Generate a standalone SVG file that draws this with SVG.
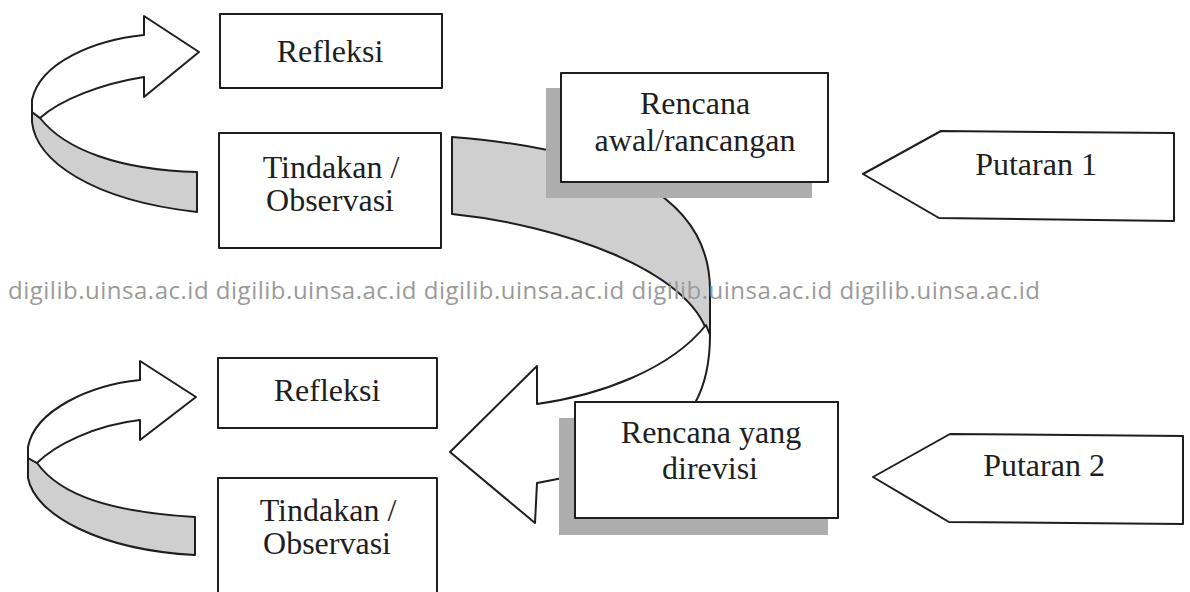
<svg xmlns="http://www.w3.org/2000/svg" width="1190" height="592" viewBox="0 0 1190 592">
<style>
.ln{stroke:#1e1e1e;stroke-width:2;stroke-linejoin:round}
.wh{fill:#ffffff}
.gr{fill:#cfcfcf}
.sh{fill:#adadad}
.t{font-family:"Liberation Serif","Times New Roman",serif;font-size:32px;fill:#1e1e1e;text-anchor:middle}
.wm{font-family:"Open Sans","DejaVu Sans",sans-serif;font-size:24px;fill:#9a9a9a}
</style>
<rect width="1190" height="592" fill="#ffffff"/>
<g id="connectors">
  <g id="loop-top">
    <path class="ln gr" d="M32,112 L32,122 C36,160 90,200 197,212 L197,172 C120,170 65,150 40,118 Z"/>
    <path class="ln wh" d="M144,35 C95,40 40,62 32,100 L32,112 L40,118 C60,100 100,84 144,77 L144,97 L199,52 L144,16 Z"/>
  </g>
  <g id="loop-bottom">
    <path class="ln gr" d="M28,458 L28,478 C35,515 100,550 195,555 L195,517 C110,512 60,495 37,463 Z"/>
    <path class="ln wh" d="M140,380 C90,385 35,410 28,447 L28,458 L37,463 C55,445 95,425 140,420 L140,440 L196,397 L140,361 Z"/>
  </g>
  <g id="big-arrow">
    <path class="ln gr" d="M452,137 L452,214 C560,225 690,270 708,335 L710,335 L710,290 C710,200 620,150 452,137 Z"/>
    <path class="ln wh" d="M450,452 L537,366 L537,404 C600,395 670,370 706,325 L710,335 C710,365 705,385 695,403 L700,470 L573,476 L537,483 L535,523 Z"/>
  </g>
</g>
<g id="node-refleksi-1">
  <rect class="ln wh" x="220" y="14" width="222" height="74"/>
  <text class="t" x="330" y="62">Refleksi</text>
</g>
<g id="node-tindakan-1">
  <rect class="ln wh" x="219" y="133" width="222" height="115"/>
  <text class="t" x="331" y="178">Tindakan /</text>
  <text class="t" x="330" y="211">Observasi</text>
</g>
<g id="node-rencana-awal">
  <rect class="sh" x="546" y="88" width="266" height="110"/>
  <rect class="ln wh" x="561" y="73" width="267" height="109"/>
  <text class="t" x="695" y="114">Rencana</text>
  <text class="t" x="695" y="151">awal/rancangan</text>
</g>
<g id="node-putaran-1">
  <polygon class="ln wh" points="863,174 941,131 1174,133 1174,221 939,218"/>
  <text class="t" x="1036" y="175">Putaran 1</text>
</g>
<g id="node-refleksi-2">
  <rect class="ln wh" x="218" y="358" width="219" height="70"/>
  <text class="t" x="327" y="401">Refleksi</text>
</g>
<g id="node-tindakan-2">
  <rect class="ln wh" x="218" y="478" width="219" height="120"/>
  <text class="t" x="328" y="521">Tindakan /</text>
  <text class="t" x="327" y="554">Observasi</text>
</g>
<g id="node-rencana-revisi">
  <rect class="sh" x="559" y="418" width="269" height="117"/>
  <rect class="ln wh" x="575" y="402" width="263" height="116"/>
  <text class="t" x="711" y="443">Rencana yang</text>
  <text class="t" x="710" y="479">direvisi</text>
</g>
<g id="node-putaran-2">
  <polygon class="ln wh" points="873,477 950,434 1183,436 1183,524 949,522"/>
  <text class="t" x="1044" y="476">Putaran 2</text>
</g>
<text class="wm" x="8" y="299" textLength="1032" lengthAdjust="spacing">digilib.uinsa.ac.id digilib.uinsa.ac.id digilib.uinsa.ac.id digilib.uinsa.ac.id digilib.uinsa.ac.id</text>
</svg>
